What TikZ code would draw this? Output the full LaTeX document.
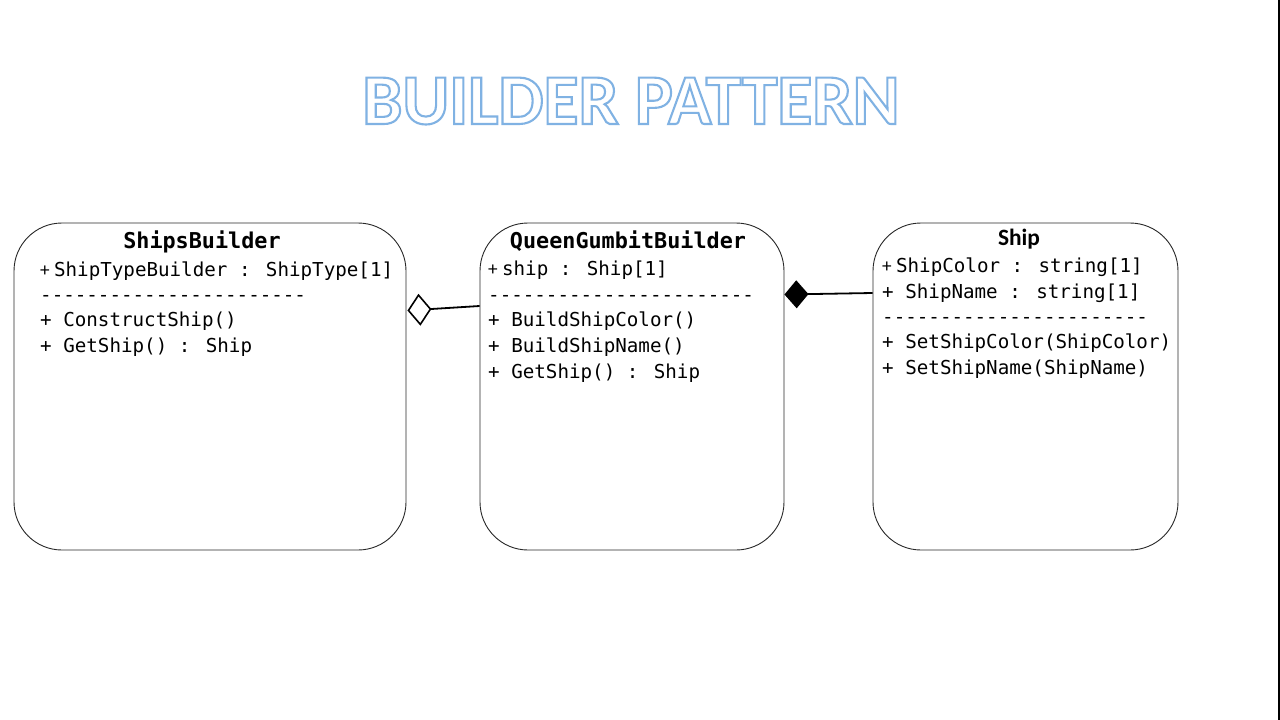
\documentclass[tikz,border=0pt]{standalone}
\usepackage{fontspec}
\setmainfont{Carlito}
\newfontfamily\monof{DejaVu Sans Mono}
\newfontfamily\calib{Carlito}
\usetikzlibrary{arrows.meta,calc}
\definecolor{boxline}{RGB}{40,40,40}
\newcommand{\outlinetext}[1]{\special{pdf:literal direct 2 Tr 2.1 w 0.50 0.70 0.89 RG}#1\special{pdf:literal direct 0 Tr 0 G}}
\begin{document}
\begin{tikzpicture}[x=1pt,y=-1pt,
  classbox/.style={draw=boxline,line width=0.9pt,fill=white,rounded corners=48pt,inner sep=0pt},
  txt/.style={anchor=base west,inner sep=0pt,font=\monof\fontsize{19.2}{22}\selectfont},
  hdr/.style={anchor=base,inner sep=0pt,font=\monof\bfseries\fontsize{21.8}{24}\selectfont},
  titlef/.style={anchor=base,inner sep=0pt,font=\calib\bfseries\fontsize{71.5}{80}\selectfont},
  conn/.style={line width=1.8pt,draw=black}]
\useasboundingbox (0,0) rectangle (1280,720);
\fill[white] (0,0) rectangle (1280,720);
\fill[black] (1278,0) rectangle (1280,720);
% title
\node[titlef,text=white] (title) at (631,124) {\outlinetext{BUILDER PATTERN}};
% boxes
\node[classbox,minimum width=392pt,minimum height=327pt] (sb) at (210,386.5) {};
\node[classbox,minimum width=304pt,minimum height=327pt] (qb) at (632,386.5) {};
\node[classbox,minimum width=305pt,minimum height=327pt] (sh) at (1025.5,386.5) {};
% ShipsBuilder
\node[hdr] (sbh) at (202,248) {ShipsBuilder};
\node[txt] (sb1) at (40,276) {{\calib +\ }ShipTypeBuilder : ShipType[1]};
\node[txt] (sb2) at (40,301) {-----------------------};
\node[txt] (sb3) at (40,326) {+ ConstructShip()};
\node[txt] (sb4) at (40,352) {+ GetShip() : Ship};
% QueenGumbitBuilder
\node[hdr] (qbh) at (628,248) {QueenGumbitBuilder};
\node[txt] (qb1) at (488,275) {{\calib +\ }ship : Ship[1]};
\node[txt] (qb2) at (488,301) {-----------------------};
\node[txt] (qb3) at (488,326) {+ BuildShipColor()};
\node[txt] (qb4) at (488,352) {+ BuildShipName()};
\node[txt] (qb5) at (488,378) {+ GetShip() : Ship};
% Ship
\node[anchor=base,inner sep=0pt,font=\calib\bfseries\fontsize{23.4}{26}\selectfont] (shh) at (1019,245) {Ship};
\node[txt] (sh1) at (882,272) {{\calib +\ }ShipColor : string[1]};
\node[txt] (sh2) at (882,298) {+ ShipName : string[1]};
\node[txt] (sh3) at (882,323) {-----------------------};
\node[txt] (sh4) at (882,348) {+ SetShipColor(ShipColor)};
\node[txt] (sh5) at (882,374) {+ SetShipName(ShipName)};
% connectors
\coordinate (ya) at (0,306);
\coordinate (yb) at (0,310.5);
\coordinate (yc) at (0,293);
\coordinate (yd) at (0,294.5);
\draw[conn,-{Diamond[open,length=24pt,width=32pt,line width=1.6pt]}] (qb.west |- ya) -- ($(sb.east |- yb)+(1,0)$);
\draw[conn,-{Diamond[length=24pt,width=28pt]}] (sh.west |- yc) -- ($(qb.east |- yd)+(0,0)$);
\end{tikzpicture}
\end{document}
